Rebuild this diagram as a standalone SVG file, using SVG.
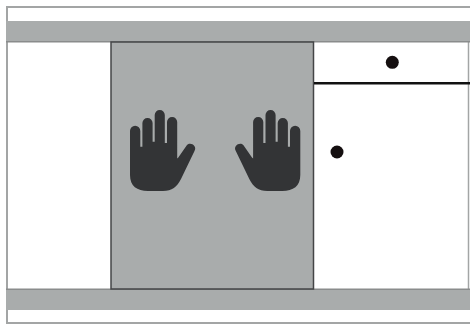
<svg xmlns="http://www.w3.org/2000/svg" width="470" height="325" viewBox="0 0 470 325">
<style>
.frame{fill:none;stroke:#a3a5a5;stroke-width:2}
.bar{fill:#a9acac}
.barline{stroke:#8a8c8c;stroke-width:1.5;fill:none}
.hand{fill:#333436}
.dot{fill:#150f10}
</style>
<defs>
<path id="hand-shape" d="M130 131A5 5 0 0 1 140.300 131V146.800H142.400V123A5 5 0 0 1 152.600 123V141.800H154.700V115A5 5 0 0 1 164.800 115V143H167V122A5 5 0 0 1 177.200 122V158.500L178.300 157.500L187 145C190.500 141.500 197.500 146 194.500 151L181 179C177 187 172 191 163 191H148C137 191 130 186 130 175Z"/>
</defs>
<rect width="470" height="325" fill="#fff"/>
<g id="frame">
<rect class="frame" x="7" y="7" width="470" height="316"/>
<line x1="468.500" y1="42" x2="468.500" y2="289" stroke="#a3a5a5" stroke-width="1.500"/>
</g>
<g id="bar-top">
<rect class="bar" x="6" y="21" width="464" height="21"/>
<line class="barline" x1="6" y1="41.700" x2="470" y2="41.700"/>
</g>
<g id="bar-bottom">
<rect class="bar" x="6" y="289" width="464" height="21"/>
<line class="barline" x1="6" y1="289.300" x2="470" y2="289.300"/>
</g>
<g id="panel">
<rect x="111" y="42" width="202.500" height="247" fill="#a9acac" stroke="#444547" stroke-width="1.500"/>
</g>
<g id="hand-left"><use href="#hand-shape" class="hand"/></g>
<g id="hand-right"><use href="#hand-shape" class="hand" transform="matrix(-1 0 0 1 430.300 0)"/></g>
<g id="connectors">
<line x1="314" y1="83.300" x2="470" y2="83.300" stroke="#111" stroke-width="2.400"/>
</g>
<g id="dot-top"><circle class="dot" cx="392.300" cy="62.300" r="6.500"/></g>
<g id="dot-middle"><circle class="dot" cx="337" cy="152" r="6.500"/></g>
</svg>
